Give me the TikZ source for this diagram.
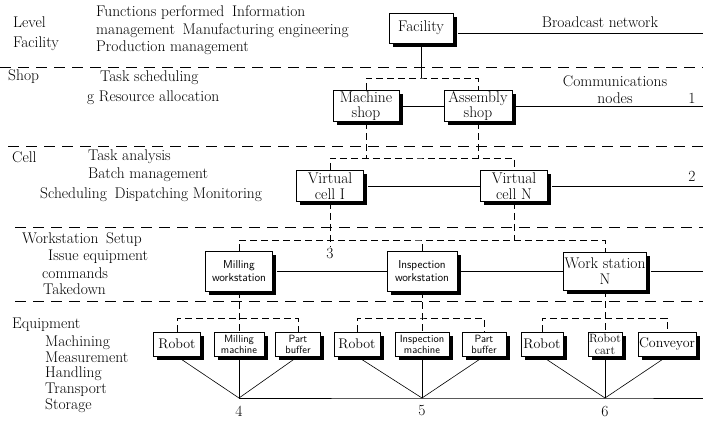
\documentclass[tikz,border=0pt]{standalone}
\usetikzlibrary{shadows}
\newcommand\lblfont{\fontsize{15.5}{17}\selectfont}
\newcommand\boxfont{\fontsize{15.5}{15.5}\selectfont}
\newcommand\eqrfont{\fontsize{14}{14}\selectfont}
\newcommand\wsfont{\fontsize{11.5}{13}\selectfont\sffamily}
\newcommand\eqfont{\fontsize{10.5}{11}\selectfont\sffamily}
\begin{document}
\begin{tikzpicture}[x=1pt, y=-1pt,
  box/.style={draw, thick, fill=white, align=center, inner sep=1pt, font=\boxfont,
    drop shadow={shadow xshift=3.5pt, shadow yshift=-3.5pt, fill=black, opacity=1}},
  txt/.style={anchor=west, font=\lblfont, inner sep=0pt},
  level/.style={dash pattern=on 11pt off 7pt},
  link/.style={dash pattern=on 7pt off 4pt},
  net/.style={semithick}]
  \useasboundingbox (0,0) rectangle (703,423);
  % Level separators
  \draw[level] (0,67) -- (703,67);
  \draw[level] (8,146) -- (703,146);
  \draw[level] (15,227) -- (703,227);
  \draw[level] (15,301) -- (703,301);
  % Levels and functions performed
  \node[txt] (lvl) at (13,22) {Level};
  \node[txt] (lvlfac) at (13,44) {Facility};
  \node[txt] (funa) at (96,13) {Functions performed\enspace Information};
  \node[txt] (funb) at (96,31) {management\enspace Manufacturing engineering};
  \node[txt] (func) at (96,48) {Production management};
  \node[txt] (lvlshop) at (8,77) {Shop};
  \node[txt] (shopa) at (100,78) {Task scheduling};
  \node[txt] (shopb) at (87,98) {g Resource allocation};
  \node[txt] (lvlcell) at (12,157) {Cell};
  \node[txt] (cella) at (88,157) {Task analysis};
  \node[txt] (cellb) at (88,175) {Batch management};
  \node[txt] (cellc) at (40,195) {Scheduling\enspace Dispatching Monitoring};
  \node[txt] (lvlws) at (22,240) {Workstation\enspace Setup};
  \node[txt] (wsa) at (48,257) {Issue equipment};
  \node[txt] (wsb) at (42,273) {commands};
  \node[txt] (wsc) at (43,289) {Takedown};
  \node[txt] (lvleq) at (12,325) {Equipment};
  \node[txt, align=left, font=\fontsize{15.5}{15.75}\selectfont] (eqtasks) at (45,374)
    {Machining\\Measurement\\Handling\\Transport\\Storage};
  % Facility and shops
  \node[box, minimum width=64pt, minimum height=30pt] (facility) at (421,28) {Facility};
  \node[box, minimum width=66pt, minimum height=31pt] (mshop) at (366,106) {Machine\\shop};
  \node[box, minimum width=68pt, minimum height=31pt] (ashop) at (478,106) {Assembly\\shop};
  % Cells
  \node[box, minimum width=67pt, minimum height=31pt] (celli) at (330,186) {Virtual\\cell I};
  \node[box, minimum width=67pt, minimum height=31pt] (celln) at (514,186) {Virtual\\cell N};
  % Workstations
  \node[box, font=\wsfont, minimum width=67pt, minimum height=40pt] (mws) at (239,271) {Milling\\workstation};
  \node[box, font=\wsfont, minimum width=70pt, minimum height=40pt] (iws) at (422,271) {Inspection\\workstation};
  \node[box, minimum width=70pt, minimum height=38pt] (wsn) at (605,271) {Work station\\N};
  % Equipment
  \node[box, font=\eqrfont, minimum width=47pt, minimum height=24pt] (robota) at (177,344) {Robot};
  \node[box, font=\eqfont, minimum width=50pt, minimum height=24pt] (millm) at (239,344) {Milling\\machine};
  \node[box, font=\eqfont, minimum width=45pt, minimum height=24pt] (bufa) at (298,344) {Part\\buffer};
  \node[box, font=\eqrfont, minimum width=46pt, minimum height=24pt] (robotb) at (357,344) {Robot};
  \node[box, font=\eqfont, minimum width=54pt, minimum height=24pt] (inspm) at (422,344) {Inspection\\machine};
  \node[box, font=\eqfont, minimum width=44pt, minimum height=24pt] (bufb) at (484,344) {Part\\buffer};
  \node[box, font=\eqrfont, minimum width=42pt, minimum height=24pt] (robotc) at (542,344) {Robot};
  \node[box, font=\fontsize{12}{12}\selectfont, minimum width=34pt, minimum height=24pt] (cart) at (605,344) {Robot\\cart};
  \node[box, font=\eqrfont, minimum width=58pt, minimum height=24pt] (conv) at (667,344) {Conveyor};
  % Communications nodes
  \node[font=\lblfont] (bcast) at (600,22) {Broadcast network};
  \node[font=\lblfont, align=center] (comm) at (615,90) {Communications\\nodes};
  \node[font=\lblfont] (n1) at (692,98) {1};
  \node[font=\lblfont] (n2) at (692,176) {2};
  \node[font=\lblfont, inner sep=1pt] (n3) at (330,253) {3};
  \node[font=\lblfont] (n4) at (239,411) {4};
  \node[font=\lblfont] (n5) at (422,411) {5};
  \node[font=\lblfont] (n6) at (605,411) {6};
  \coordinate (e0) at (703,33);
  \coordinate (e1) at (703,106);
  \coordinate (e2) at (703,186);
  \coordinate (e3) at (703,271);
  \coordinate (p4) at (239,398);
  \coordinate (p5) at (422,398);
  \coordinate (p6) at (605,398);
  \coordinate (e4) at (703,398);
  % Networks
  \draw[net, shorten <=5pt] (facility.east |- e0) -- (e0);
  \draw[net] (mshop.east) -- (ashop.west);
  \draw[net, shorten <=4pt] (ashop.east) -- (e1);
  \draw[net, shorten <=4pt] (celli.east) -- (celln.west);
  \draw[net, shorten <=4pt] (celln.east) -- (e2);
  \draw[net, shorten <=4pt] (mws.east) -- (iws.west);
  \draw[net, shorten <=4pt] (iws.east) -- (wsn.west);
  \draw[net, shorten <=4pt] (wsn.east) -- (e3);
  \draw[net] (robota.south) -- (p4) -- (bufa.south);
  \draw[net] (millm.south) -- (p4);
  \draw[net] (robotb.south) -- (p5) -- (bufb.south);
  \draw[net] (inspm.south) -- (p5);
  \draw[net] (robotc.south) -- (p6) -- (conv.south);
  \draw[net] (cart.south) -- (p6);
  \draw[net] (p4) -- (p5) -- (p6) -- (e4);
  % Control links
  \coordinate (fbus) at (421,78);
  \coordinate (cbus) at (421,158);
  \coordinate (wbus) at (421,240);
  \coordinate (ebusa) at (239,318);
  \coordinate (ebusb) at (422,318);
  \coordinate (ebusc) at (605,318);
  \draw[net] (facility.south) -- (fbus);
  \draw[link] (mshop.north) |- (fbus) -| (ashop.north);
  \draw[link] (celli.north) |- (cbus) -| (celln.north);
  \draw[link] (mshop.south) -- (mshop.south |- cbus);
  \draw[link] (ashop.south) -- (ashop.south |- cbus);
  \draw[link] (mws.north) |- (wbus) -| (wsn.north);
  \draw[link] (iws.north) -- (iws.north |- wbus);
  \draw[link] (celln.south) -- (celln.south |- wbus);
  \draw[link] (celli.south) -- (n3.north);
  \draw[link] (robota.north) |- (ebusa) -| (bufa.north);
  \draw[link] (robotb.north) |- (ebusb) -| (bufb.north);
  \draw[link] (robotc.north) |- (ebusc) -| (conv.north);
  \draw[link] (mws.south) -- (millm.north);
  \draw[link] (iws.south) -- (inspm.north);
  \draw[link] (wsn.south) -- (cart.north);
\end{tikzpicture}
\end{document}
